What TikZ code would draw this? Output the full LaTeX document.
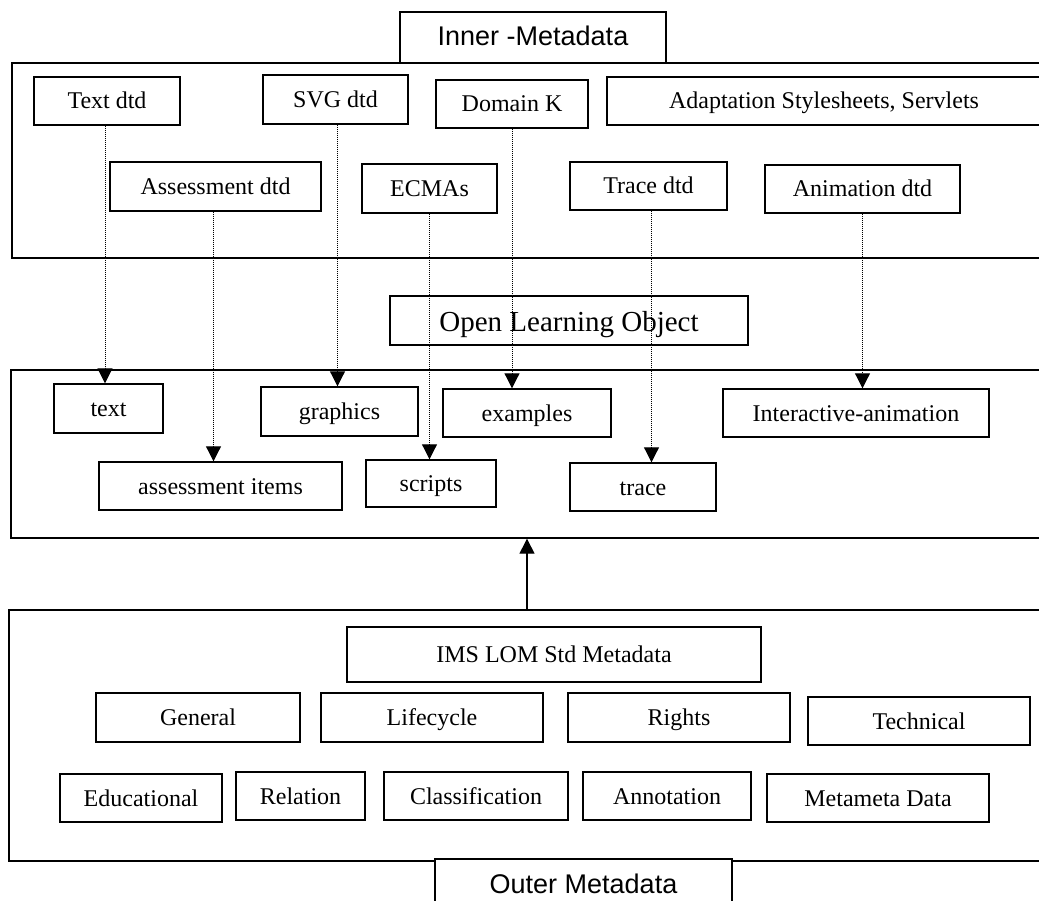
\documentclass[tikz,border=0pt]{standalone}
\usepackage{fontspec}
\setmainfont{Liberation Serif}
\newfontfamily\tabfont{Liberation Sans}
\usetikzlibrary{arrows.meta}
\begin{document}
\begin{tikzpicture}
  [x=1pt,y=-1pt,
   every node/.style={draw,line width=1.4pt,inner sep=0pt,text height=19pt,text depth=3pt,
     font=\fontsize{24}{26}\selectfont},
   panel/.style={fill=none},
   tab/.style={fill=white,text height=20pt,text depth=3pt,font=\tabfont\fontsize{27}{30}\selectfont},
   link/.style={densely dotted,line width=1pt,-{Triangle[width=15pt,length=15pt]}},
   feed/.style={line width=1.4pt,-{Triangle[width=15pt,length=15pt]}}]
  \useasboundingbox (0,0) rectangle (1039,901);
  \clip (0,0) rectangle (1039,901);

  \node[panel,minimum width=1048pt,minimum height=195pt] (innerframe) at (536,160.5) {};
  \node[tab,minimum width=266pt,minimum height=51pt] (innertab) at (533,37.5) {Inner -Metadata};
  \node[minimum width=146pt,minimum height=48pt] (textdtd) at (107,101) {Text dtd};
  \node[minimum width=145pt,minimum height=49pt] (svgdtd) at (335.5,99.5) {SVG dtd};
  \node[minimum width=152pt,minimum height=48pt] (domk) at (512,104) {Domain K};
  \node[minimum width=434pt,minimum height=48pt] (adapt) at (824,101) {Adaptation Stylesheets, Servlets};
  \node[minimum width=211pt,minimum height=49pt] (assessdtd) at (215.5,186.5) {Assessment dtd};
  \node[minimum width=135pt,minimum height=49pt] (ecmas) at (429.5,188.5) {ECMAs};
  \node[minimum width=157pt,minimum height=48pt] (tracedtd) at (648.5,186) {Trace dtd};
  \node[minimum width=195pt,minimum height=48pt] (animdtd) at (862.5,189) {Animation dtd};

  \node[minimum width=358pt,minimum height=49pt,text height=23pt,text depth=0pt,
    font=\fontsize{29}{32}\selectfont] (olo) at (569,320.5) {Open Learning Object};
  \node[panel,minimum width=1049pt,minimum height=168pt] (oloframe) at (535.5,454) {};
  \node[minimum width=109pt,minimum height=49pt] (textbox) at (108.5,408.5) {text};
  \node[minimum width=157pt,minimum height=49pt] (graphics) at (339.5,411.5) {graphics};
  \node[minimum width=168pt,minimum height=48pt] (examples) at (527,413) {examples};
  \node[minimum width=266pt,minimum height=48pt] (interanim) at (856,413) {Interactive-animation};
  \node[minimum width=243pt,minimum height=48pt] (assessitems) at (220.5,486) {assessment items};
  \node[minimum width=130pt,minimum height=47pt] (scripts) at (431,483.5) {scripts};
  \node[minimum width=146pt,minimum height=48pt] (trace) at (643,487) {trace};

  \node[panel,minimum width=1051pt,minimum height=251pt] (lomframe) at (534.5,735.5) {};
  \node[minimum width=414pt,minimum height=55pt] (ims) at (554,654.5) {IMS LOM Std Metadata};
  \node[minimum width=204pt,minimum height=49pt] (general) at (198,717.5) {General};
  \node[minimum width=222pt,minimum height=49pt] (lifecycle) at (432,717.5) {Lifecycle};
  \node[minimum width=222pt,minimum height=49pt] (rights) at (679,717.5) {Rights};
  \node[minimum width=222pt,minimum height=48pt] (technical) at (919,721) {Technical};
  \node[minimum width=162pt,minimum height=48pt] (educational) at (141,798) {Educational};
  \node[minimum width=129pt,minimum height=48pt] (relation) at (300.5,796) {Relation};
  \node[minimum width=184pt,minimum height=48pt] (classification) at (476,796) {Classification};
  \node[minimum width=168pt,minimum height=48pt] (annotation) at (667,796) {Annotation};
  \node[minimum width=222pt,minimum height=48pt] (metameta) at (878,798) {Metameta Data};
  \node[tab,minimum width=297pt,minimum height=48pt,text height=22pt,text depth=2pt] (outertab) at (583.5,883) {Outer Metadata};

  \draw[link] ([xshift=-2pt]textdtd.south) -- ([xshift=-2pt]textdtd.south |- textbox.north);
  \draw[link] ([xshift=-2pt]assessdtd.south) -- ([xshift=-2pt]assessdtd.south |- assessitems.north);
  \draw[link] ([xshift=2pt]svgdtd.south) -- ([xshift=2pt]svgdtd.south |- graphics.north);
  \draw[link] (ecmas.south) -- (ecmas.south |- scripts.north);
  \draw[link] (domk.south) -- (domk.south |- examples.north);
  \draw[link] ([xshift=3pt]tracedtd.south) -- ([xshift=3pt]tracedtd.south |- trace.north);
  \draw[link] (animdtd.south) -- (animdtd.south |- interanim.north);

  \coordinate (lomup) at (527,610);
  \draw[feed] (lomup) -- (lomup |- oloframe.south);
\end{tikzpicture}
\end{document}
